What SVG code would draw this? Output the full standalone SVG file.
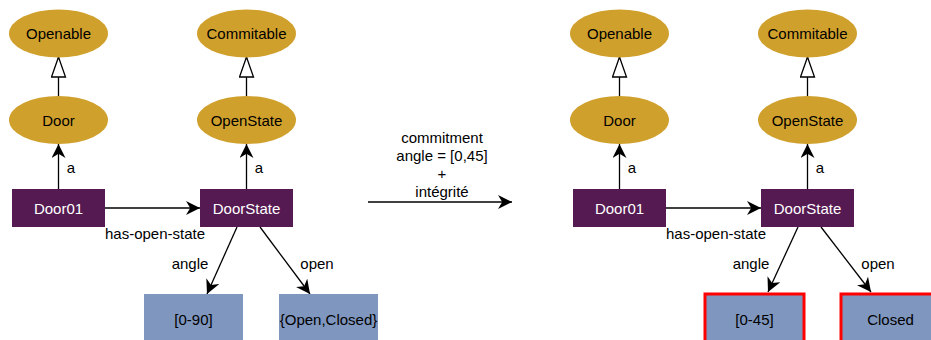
<svg xmlns="http://www.w3.org/2000/svg" width="931" height="340" viewBox="0 0 931 340">
<style>
text{font-family:"Liberation Sans",Arial,sans-serif;font-size:15px;fill:#000;text-anchor:middle}
.cls{fill:#D0A02D}
.inst{fill:#561A52}
.inst-t{fill:#fff}
.val{fill:#7F96BE}
.hl{stroke:#FF0000;stroke-width:3}
.edge{stroke:#000;stroke-width:1.3;fill:none}
.arr{marker-end:url(#arrow)}
.gen{marker-end:url(#tri)}
</style>
<defs>
<marker id="arrow" viewBox="0 0 10 10" refX="10" refY="5" markerWidth="14" markerHeight="14" markerUnits="userSpaceOnUse" orient="auto">
<path d="M0,0 L10,5 L0,10 L3,5 z" fill="#000"/>
</marker>
<marker id="tri" viewBox="0 0 22 16" refX="21" refY="8" markerWidth="22" markerHeight="16" markerUnits="userSpaceOnUse" orient="auto">
<path d="M1,1 L21,8 L1,15 z" fill="#fff" stroke="#000" stroke-width="1.3"/>
</marker>
</defs>

<g id="connectors">
<line class="edge gen" x1="58.5" y1="96" x2="58.5" y2="57"/>
<line class="edge gen" x1="246.5" y1="96" x2="246.5" y2="57"/>
<line class="edge arr" x1="58.5" y1="189" x2="58.5" y2="144"/>
<line class="edge arr" x1="246.5" y1="189" x2="246.5" y2="144"/>
<line class="edge arr" x1="105" y1="208" x2="200" y2="208"/>
<line class="edge arr" x1="237" y1="227" x2="207" y2="294"/>
<line class="edge arr" x1="260" y1="227" x2="310" y2="294"/>
<line class="edge arr" x1="368" y1="202" x2="512" y2="202"/>
<line class="edge gen" x1="619.5" y1="96" x2="619.5" y2="57"/>
<line class="edge gen" x1="807.5" y1="96" x2="807.5" y2="57"/>
<line class="edge arr" x1="619.5" y1="189" x2="619.5" y2="144"/>
<line class="edge arr" x1="807.5" y1="189" x2="807.5" y2="144"/>
<line class="edge arr" x1="666" y1="208" x2="761" y2="208"/>
<line class="edge arr" x1="798" y1="227" x2="768" y2="292"/>
<line class="edge arr" x1="821" y1="227" x2="871" y2="292"/>
<text x="71" y="173">a</text>
<text x="259" y="173">a</text>
<text x="155" y="239">has-open-state</text>
<text x="190" y="269">angle</text>
<text x="317" y="269">open</text>
<text x="632" y="173">a</text>
<text x="820" y="173">a</text>
<text x="716" y="239">has-open-state</text>
<text x="751" y="269">angle</text>
<text x="878" y="269">open</text>
<text x="442" y="143">commitment</text>
<text x="442" y="161">angle = [0,45]</text>
<text x="442" y="179">+</text>
<text x="442" y="197">intégrité</text>
</g>

<g id="openable-l"><ellipse class="cls" cx="58.5" cy="33.5" rx="49.5" ry="24"/><text x="58.5" y="39">Openable</text></g>
<g id="commitable-l"><ellipse class="cls" cx="246.5" cy="33.5" rx="49.5" ry="24"/><text x="246.5" y="39">Commitable</text></g>
<g id="door-l"><ellipse class="cls" cx="58.5" cy="120" rx="49.5" ry="24"/><text x="58.5" y="125.5">Door</text></g>
<g id="openstate-l"><ellipse class="cls" cx="246.5" cy="120" rx="49.5" ry="24"/><text x="246.5" y="125.5">OpenState</text></g>
<g id="door01-l"><rect class="inst" x="12" y="189" width="93" height="38"/><text class="inst-t" x="58.5" y="214">Door01</text></g>
<g id="doorstate-l"><rect class="inst" x="200" y="189" width="93" height="38"/><text class="inst-t" x="246.5" y="214">DoorState</text></g>
<g id="angle-l"><rect class="val" x="144" y="294" width="99" height="60"/><text x="193.5" y="325">[0-90]</text></g>
<g id="open-l"><rect class="val" x="279" y="294" width="99" height="60"/><text x="328.5" y="325">{Open,Closed}</text></g>

<g id="openable-r"><ellipse class="cls" cx="619.5" cy="33.5" rx="49.5" ry="24"/><text x="619.5" y="39">Openable</text></g>
<g id="commitable-r"><ellipse class="cls" cx="807.5" cy="33.5" rx="49.5" ry="24"/><text x="807.5" y="39">Commitable</text></g>
<g id="door-r"><ellipse class="cls" cx="619.5" cy="120" rx="49.5" ry="24"/><text x="619.5" y="125.5">Door</text></g>
<g id="openstate-r"><ellipse class="cls" cx="807.5" cy="120" rx="49.5" ry="24"/><text x="807.5" y="125.5">OpenState</text></g>
<g id="door01-r"><rect class="inst" x="573" y="189" width="93" height="38"/><text class="inst-t" x="619.5" y="214">Door01</text></g>
<g id="doorstate-r"><rect class="inst" x="761" y="189" width="93" height="38"/><text class="inst-t" x="807.5" y="214">DoorState</text></g>
<g id="angle-r"><rect class="val hl" x="705" y="294" width="99" height="60"/><text x="754.5" y="325">[0-45]</text></g>
<g id="open-r"><rect class="val hl" x="841" y="294" width="99" height="60"/><text x="890.5" y="325">Closed</text></g>
</svg>
